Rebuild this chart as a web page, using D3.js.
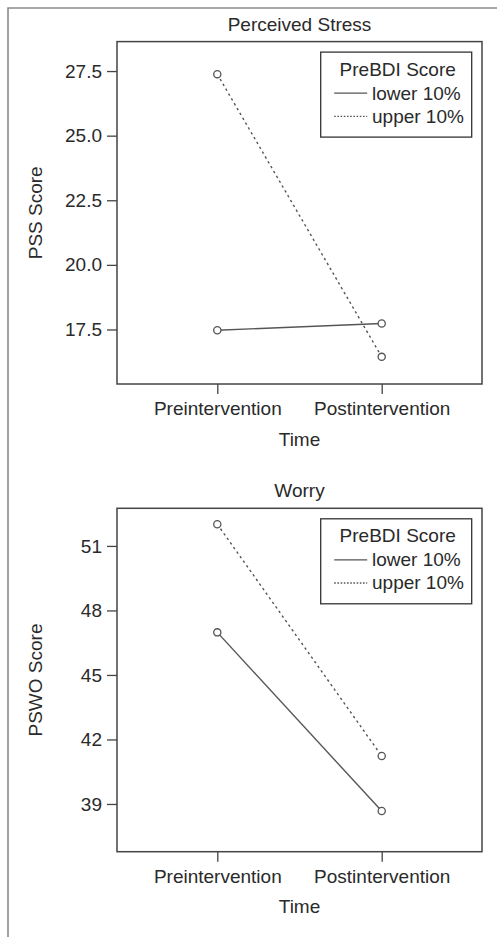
<!DOCTYPE html>
<html lang="en">
<head>
    <meta charset="UTF-8">
    <title>PreBDI interaction plots</title>
    <script src="https://cdn.jsdelivr.net/npm/d3@7"></script>
    <style>
        body { margin: 0; background: #fff; }
        svg text { font-family: "Liberation Sans", Arial, Helvetica, sans-serif; fill: #2a2a2a; }
    </style>
</head>
<body>
<svg width="497" height="937"></svg>
<script>
    // data
    var timepoints = ["Preintervention", "Postintervention"];
    var groups = ["lower 10%", "upper 10%"];

    var pssLower = [17.47, 17.73];
    var pssUpper = [27.38, 16.44];
    var pssTicks = [17.5, 20.0, 22.5, 25.0, 27.5];

    var pswoLower = [46.98, 38.67];
    var pswoUpper = [52.01, 41.23];
    var pswoTicks = [39, 42, 45, 48, 51];

    var svg = d3.select("svg");

    // outer frame (runs off the right and bottom)
    svg.append("path")
        .attr("d", "M8,940 L8,8 L500,8")
        .attr("fill", "none")
        .attr("stroke", "#8a8a8a")
        .attr("stroke-width", 1.6);

    var panels = [
        { title: "Perceived Stress", ylab: "PSS Score", top: 41.6, bottom: 384,
          domain: [15.39, 28.64], ticks: pssTicks, fmt: d3.format(".1f"),
          series: [pssLower, pssUpper] },
        { title: "Worry", ylab: "PSWO Score", top: 508.3, bottom: 851.7,
          domain: [36.78, 52.75], ticks: pswoTicks, fmt: d3.format("d"),
          series: [pswoLower, pswoUpper] }
    ];

    var left = 117, right = 482;
    var dashes = [null, "2.4,3.2"];

    panels.forEach(function (p) {
        var g = svg.append("g");

        var x = d3.scalePoint().domain(timepoints).range([left, right]).padding(0.61);
        var y = d3.scaleLinear().domain(p.domain).range([p.bottom, p.top]);

        // y axis
        var yAxis = g.append("g")
            .attr("transform", "translate(" + left + ",0)")
            .call(d3.axisLeft(y).tickValues(p.ticks).tickFormat(p.fmt).tickSize(10).tickPadding(5));
        yAxis.select(".domain").remove();
        yAxis.selectAll(".tick line").attr("stroke", "#444").attr("stroke-width", 1.3);
        yAxis.selectAll(".tick text").attr("font-size", 19).attr("fill", "#2a2a2a")
            .attr("font-family", "Liberation Sans, Arial, sans-serif");

        // x axis
        var xAxis = g.append("g")
            .attr("transform", "translate(0," + p.bottom + ")")
            .call(d3.axisBottom(x).tickSize(10).tickPadding(8));
        xAxis.select(".domain").remove();
        xAxis.selectAll(".tick line").attr("stroke", "#444").attr("stroke-width", 1.3);
        xAxis.selectAll(".tick text").attr("font-size", 19).attr("fill", "#2a2a2a")
            .attr("font-family", "Liberation Sans, Arial, sans-serif");

        // plot box
        g.append("rect")
            .attr("x", left).attr("y", p.top)
            .attr("width", right - left).attr("height", p.bottom - p.top)
            .attr("fill", "none").attr("stroke", "#444").attr("stroke-width", 1.5);

        // titles
        g.append("text")
            .attr("x", (left + right) / 2).attr("y", p.top - 11)
            .attr("text-anchor", "middle").attr("font-size", 19)
            .text(p.title);

        g.append("text")
            .attr("x", (left + right) / 2).attr("y", p.bottom + 61.5)
            .attr("text-anchor", "middle").attr("font-size", 19)
            .text("Time");

        g.append("text")
            .attr("transform", "translate(41.5," + (p.top + p.bottom) / 2 + ") rotate(-90)")
            .attr("text-anchor", "middle").attr("font-size", 19)
            .text(p.ylab);

        // lines and points
        var line = d3.line()
            .x(function (d, i) { return x(timepoints[i]); })
            .y(function (d) { return y(d); });

        p.series.forEach(function (s, k) {
            g.append("path")
                .datum(s)
                .attr("d", line)
                .attr("fill", "none")
                .attr("stroke", "#555")
                .attr("stroke-width", 1.4)
                .attr("stroke-dasharray", dashes[k]);

            g.selectAll(null)
                .data(s)
                .enter().append("circle")
                .attr("cx", function (d, i) { return x(timepoints[i]); })
                .attr("cy", function (d) { return y(d); })
                .attr("r", 3.6)
                .attr("fill", "#fff")
                .attr("stroke", "#555")
                .attr("stroke-width", 1.3);
        });

        // legend
        var lx = 320.7, ly = p.top + 10.5;
        var leg = g.append("g").attr("transform", "translate(" + lx + "," + ly + ")");
        leg.append("rect")
            .attr("width", 151).attr("height", 85)
            .attr("fill", "#fff").attr("stroke", "#333").attr("stroke-width", 1.3);
        leg.append("text")
            .attr("x", 77).attr("y", 23.5)
            .attr("text-anchor", "middle").attr("font-size", 19)
            .text("PreBDI Score");
        groups.forEach(function (name, k) {
            var yy = 47.5 + k * 23.2;
            leg.append("line")
                .attr("x1", 13.5).attr("x2", 46.5)
                .attr("y1", yy - 6.5).attr("y2", yy - 6.5)
                .attr("stroke", "#555").attr("stroke-width", 1.3)
                .attr("stroke-dasharray", k ? "1.6,1.6" : null);
            leg.append("text")
                .attr("x", 51.3).attr("y", yy)
                .attr("font-size", 19)
                .text(name);
        });
    });
</script>
</body>
</html>
